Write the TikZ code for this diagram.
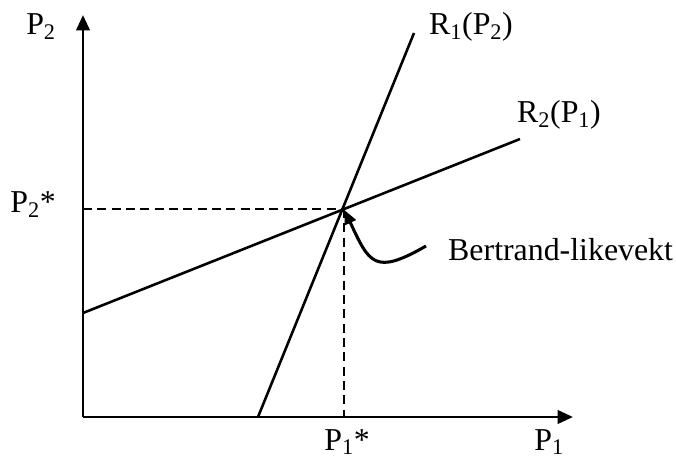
\documentclass[tikz,border=0pt]{standalone}
\usepackage{fontspec}
\setmainfont{Liberation Serif}
\usetikzlibrary{arrows.meta,calc}
\tikzset{
  fig/.style={font=\fontsize{27.2}{32}\selectfont},
  axis/.style={line width=2.5pt,-{Triangle[length=4.6mm,width=4.0mm]}},
  resp/.style={line width=2.2pt},
  guide/.style={line width=1.6pt,dash pattern=on 2.7mm off 1.6mm},
  lbl/.style={inner sep=0pt,anchor=base},
  ptr/.style={line width=2.6pt,-{Triangle[length=4.2mm,width=3.6mm]},shorten >=1pt},
}

\begin{document}
\begin{tikzpicture}[fig,x=0.03cm,y=-0.03cm]
\useasboundingbox (0,0) rectangle (676,460);

% ------------------------------------------------ axes
\coordinate (O) at (83,417);
\coordinate (ytop) at (83,15);
\coordinate (xend) at (573,417);
\draw[axis] (O) -- (ytop);
\draw[axis] (O) -- (xend);

% ------------------------------------------------ reaction curves
\coordinate (r1a) at (258,417);
\coordinate (r1b) at (414,33);
\coordinate (r2a) at (83,313);
\coordinate (r2b) at (520,139);
\draw[resp] (r1a) -- (r1b);
\draw[resp] (r2a) -- (r2b);

% ------------------------------------------------ equilibrium
\coordinate (eq) at (344,209);
\coordinate (eqy) at (83,209);
\coordinate (eqx) at (344,417);
\draw[guide] (eqy) -- (eq);
\draw[guide] (eq) -- (eqx);

% ------------------------------------------------ labels
\node[lbl] (p2) at (41,35) {P\textsubscript{2}};
\node[lbl] (p2s) at (33,213) {P\textsubscript{2}*};
\node[lbl] (p1s) at (347,450) {P\textsubscript{1}*};
\node[lbl] (p1) at (549,450) {P\textsubscript{1}};
\node[lbl] (r1) at (471,35) {R\textsubscript{1}(P\textsubscript{2})};
\node[lbl] (r2) at (559,123) {R\textsubscript{2}(P\textsubscript{1})};
\node[lbl,anchor=base west] (bl) at (448,261) {Bertrand-likevekt};

% ------------------------------------------------ pointer
\coordinate (ptrstart) at (426,246);
\draw[ptr] (ptrstart) to[out=210,in=-65,looseness=1.7] (eq);

\end{tikzpicture}
\end{document}
